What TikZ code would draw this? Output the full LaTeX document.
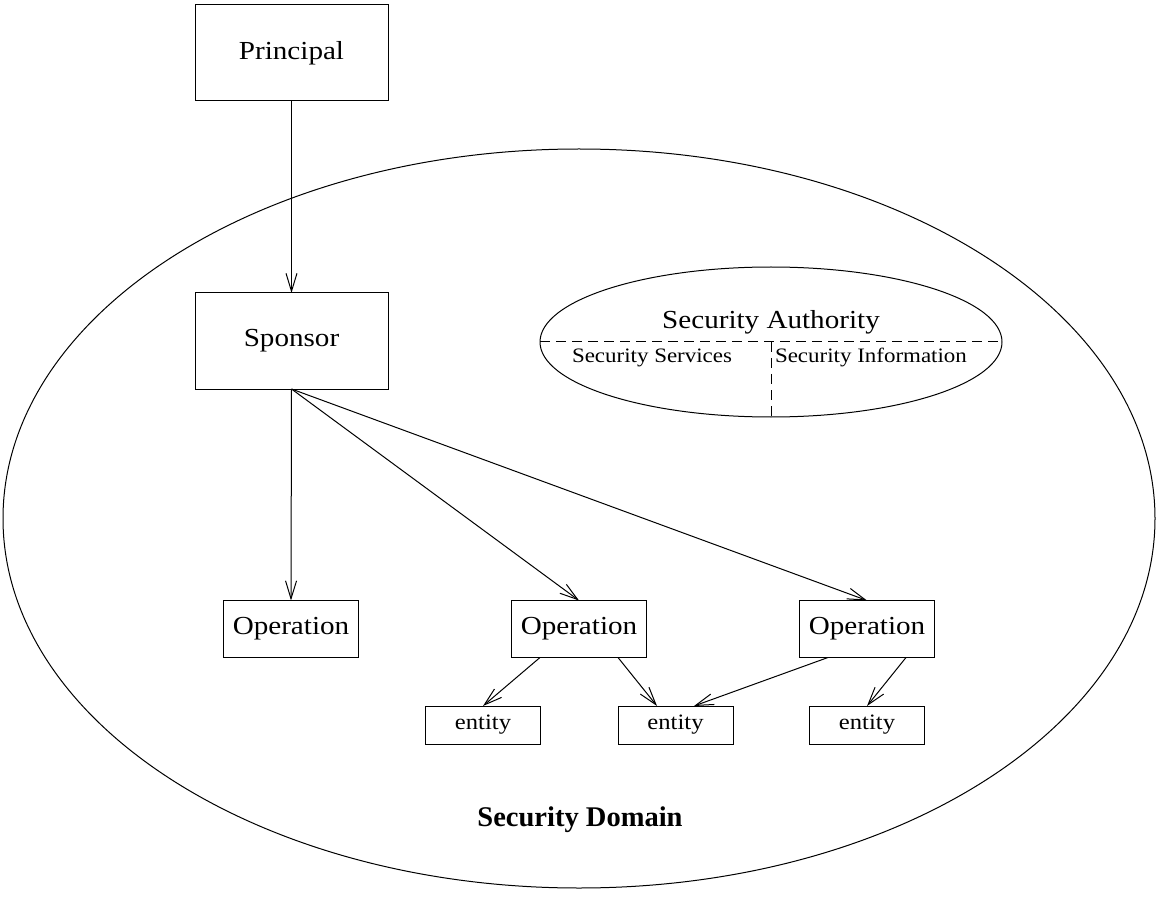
\documentclass[tikz,border=0pt]{standalone}
\usepackage{fontspec}
\setmainfont{Liberation Serif}[FakeStretch=1.12]
\newfontfamily\plainserif{Liberation Serif}
\usetikzlibrary{arrows.meta,calc}
\begin{document}
\begin{tikzpicture}[x=1pt,y=-1pt,
  line width=1pt,
  every node/.style={inner sep=0pt,outer sep=0pt},
  bigbox/.style={draw,minimum width=193pt,minimum height=96pt,font=\fontsize{26}{30}\selectfont},
  opbox/.style={draw,minimum width=135pt,minimum height=57pt,font=\fontsize{26}{30}\selectfont},
  entbox/.style={draw,minimum width=115pt,minimum height=38pt,font=\fontsize{22}{26}\selectfont},
  flow/.style={-{Straight Barb[length=18pt,width=11pt]},line width=1pt},
  divider/.style={line width=1pt,dash pattern=on 10pt off 6pt},
  sublabel/.style={anchor=base west,font=\fontsize{20.5}{24}\selectfont}]
\useasboundingbox (0,0) rectangle (1157,917);

% security domain and its authority
\draw (579,518.5) ellipse [x radius=576, y radius=369.5];
\draw (771,342) ellipse [x radius=231, y radius=75];
\coordinate (saW) at (540,342);
\coordinate (saE) at (1002,342);
\coordinate (saC) at (771,342);
\coordinate (saS) at (771,417);
\draw[divider] (saW) -- (saE);
\draw[divider] (saC) -- (saS);
\node[anchor=base,font=\fontsize{26}{30}\selectfont] (sa) at (771,329) {Security Authority};
\node[sublabel] (ss) at (572,362.5) {Security Services};
\node[sublabel] (si) at (775,362.5) {Security Information};
\node[anchor=base,font=\plainserif\bfseries\fontsize{28.5}{32}\selectfont] (dom) at (580,826.5) {Security Domain};

% principal, sponsor and operations
\node[bigbox] (principal) at (291.5,53) {Principal};
\node[bigbox] (sponsor) at (291.5,341) {Sponsor};
\node[opbox] (op1) at (291,629) {Operation};
\node[opbox] (op2) at (579,629) {Operation};
\node[opbox] (op3) at (867,629) {Operation};

% entities
\node[entbox] (e1) at (483,725) {entity};
\node[entbox] (e2) at (675.5,725) {entity};
\node[entbox] (e3) at (867,725) {entity};

% invocation arrows
\draw[flow] (principal.south) -- (sponsor.north);
\draw[flow] (sponsor.south) -- (op1.north);
\draw[flow] (sponsor.south) -- (op2.north);
\draw[flow] (sponsor.south) -- (op3.north);

% operations acting on entities
\draw[flow] ($(op2.south)+(-39,0)$) -- (e1.north);
\draw[flow] ($(op2.south)+(39,0)$) -- ($(e2.north)+(-18.5,0)$);
\draw[flow] ($(op3.south)+(-39,0)$) -- ($(e2.north)+(18.5,0)$);
\draw[flow] ($(op3.south)+(39,0)$) -- (e3.north);
\end{tikzpicture}
\end{document}
